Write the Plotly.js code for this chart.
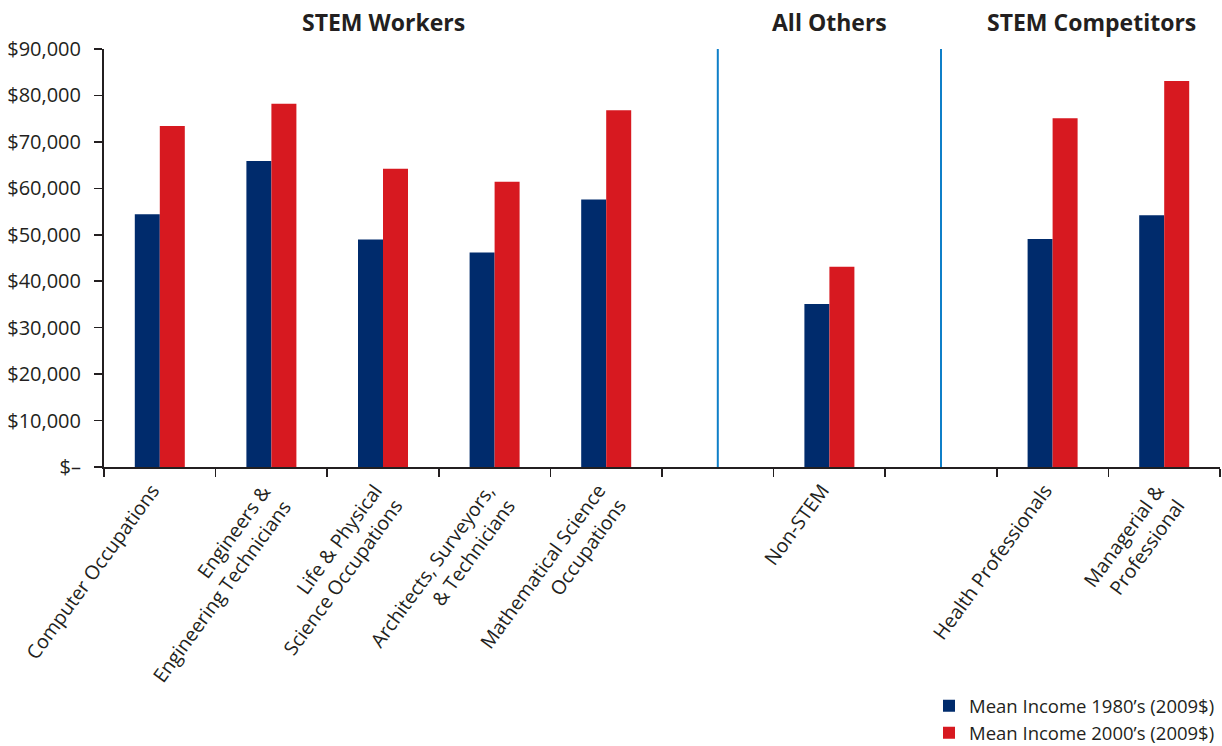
<!DOCTYPE html>
<html>
<head>
<meta charset="utf-8">
<script src="https://cdn.plot.ly/plotly-3.0.1.min.js"></script>
<style>html,body{margin:0;padding:0;background:#fff;}#chart{width:1222px;height:746px;}</style>
</head>
<body>
<div id="chart"></div>
<script>
// ---- data ----
const categories = [
  "Computer Occupations",
  "Engineers &<br>Engineering Technicians",
  "Life & Physical<br>Science Occupations",
  "Architects, Surveyors,<br>& Technicians",
  "Mathematical Science<br>Occupations",
  "",
  "Non-STEM",
  "",
  "Health Professionals",
  "Managerial &<br>Professional"
];
const income1980s = [54400, 65900, 49000, 46200, 57600, null, 35100, null, 49100, 54200];
const income2000s = [73400, 78200, 64200, 61400, 76800, null, 43100, null, 75100, 83100];
const seriesNames = ["Mean Income 1980\u2019s (2009$)", "Mean Income 2000\u2019s (2009$)"];
const yTickValues = [0, 10000, 20000, 30000, 40000, 50000, 60000, 70000, 80000, 90000];
const yTickLabels = ["$\u2013", "$10,000", "$20,000", "$30,000", "$40,000", "$50,000", "$60,000", "$70,000", "$80,000", "$90,000"];
const groupTitles = ["STEM Workers", "All Others", "STEM Competitors"];
const groupCenters = [2, 6, 8.35];
const dividerPositions = [5, 7];

// ---- build ----
const xIdx = categories.map((_, i) => i);
const FONT = "Open Sans, Noto Sans, sans-serif";
const TXT = "#231f20";
const LBL = 19.5;

const traces = [
  {type: "bar", x: xIdx, y: income1980s, name: seriesNames[0],
   marker: {color: "#002b6c", line: {width: 0}}, hoverinfo: "skip"},
  {type: "bar", x: xIdx, y: income2000s, name: seriesNames[1],
   marker: {color: "#d71920", line: {width: 0}}, hoverinfo: "skip"}
];

const annotations = [];
categories.forEach((label, i) => {
  if (!label) return;
  const lines = label.split("<br>").length;
  annotations.push({
    x: i, xref: "x", y: -0.024, yref: "paper",
    text: label, showarrow: false, textangle: -54,
    xanchor: "right", yanchor: "top", align: "right",
    borderpad: 0, xshift: -14 + 0.809 * 1.3 * LBL * lines,
    font: {family: FONT, size: LBL, color: TXT}
  });
});
groupTitles.forEach((t, i) => {
  annotations.push({
    x: groupCenters[i], xref: "x", y: 1.065, yref: "paper",
    text: "<b>" + t + "</b>", showarrow: false,
    xanchor: "center", yanchor: "middle",
    font: {family: FONT, size: 23, color: TXT}
  });
});

const shapes = dividerPositions.map(p => ({
  type: "line", xref: "x", yref: "paper", x0: p, x1: p, y0: 0, y1: 1,
  line: {color: "#0f7fc8", width: 2}
}));

const tickBounds = [];
for (let i = 0; i <= categories.length; i++) tickBounds.push(i - 0.5);

const layout = {
  width: 1222, height: 746,
  margin: {l: 104, r: 2, t: 49, b: 279, autoexpand: false},
  paper_bgcolor: "#fff", plot_bgcolor: "#fff",
  barmode: "group", bargap: 0.552, bargroupgap: 0,
  showlegend: true,
  legend: {x: 1, xanchor: "right", y: -0.527, yanchor: "top",
           font: {family: FONT, size: 18.5, color: TXT},
           bgcolor: "rgba(0,0,0,0)", tracegroupgap: 0, traceorder: "normal"},
  xaxis: {
    type: "linear", range: [-0.5, categories.length - 0.5],
    tickmode: "array", tickvals: tickBounds, showticklabels: false,
    ticks: "outside", ticklen: 8, tickwidth: 1.5, tickcolor: "#231f20",
    showline: true, linecolor: "#231f20", linewidth: 2,
    showgrid: false, zeroline: false, fixedrange: true
  },
  yaxis: {
    range: [0, 90000], tickmode: "array", tickvals: yTickValues, ticktext: yTickLabels,
    ticks: "outside", ticklen: 8, tickwidth: 1.5, tickcolor: "#231f20",
    ticklabelstandoff: 9,
    showline: true, linecolor: "#231f20", linewidth: 2,
    showgrid: false, zeroline: false, fixedrange: true,
    tickfont: {family: FONT, size: 20, color: TXT}
  },
  annotations: annotations,
  shapes: shapes
};

Plotly.newPlot("chart", traces, layout, {displayModeBar: false, staticPlot: true});
</script>
</body>
</html>
